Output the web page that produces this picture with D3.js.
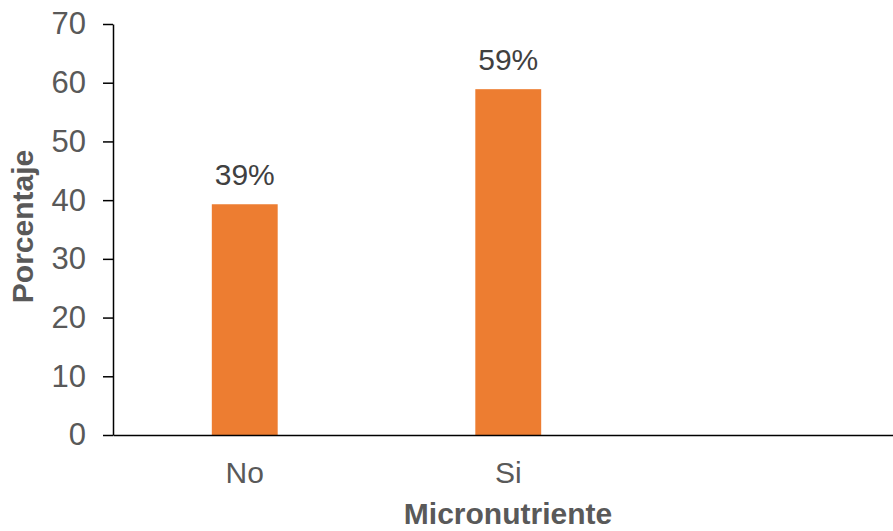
<!DOCTYPE html>
<html>
<head>
<meta charset="utf-8">
<script src="https://cdn.jsdelivr.net/npm/d3@7"></script>
<style>
  body { margin: 0; background: #fff; }
  svg { display: block; font-family: "Liberation Sans", Arial, sans-serif; }
</style>
</head>
<body>
<svg id="chart" width="893" height="531"></svg>
<script>
// categories on the x axis (third slot left empty as in the original)
var categories = ["No", "Si", ""];
var values = [39.3, 58.9];
var labels = ["39%", "59%"];
var yTicks = [0, 10, 20, 30, 40, 50, 60, 70];

var svg = d3.select("#chart");

var x = d3.scaleBand()
  .domain(categories)
  .range([113, 903.5])
  .paddingInner(0.75)
  .paddingOuter(0.375);

var y = d3.scaleLinear()
  .domain([0, 70])
  .range([435, 24]);

var data = values.map(function(v, i) {
  return {cat: categories[i], value: v, label: labels[i]};
});

// y axis
var gy = svg.append("g")
  .attr("transform", "translate(113,0)")
  .call(d3.axisLeft(y).tickValues(yTicks).tickSize(10).tickPadding(17).tickSizeOuter(0));
gy.select(".domain").attr("stroke", "#000").attr("stroke-width", 1.5);
gy.selectAll(".tick line").attr("stroke", "#000").attr("stroke-width", 1.5);
gy.selectAll(".tick text")
  .attr("fill", "#595959")
  .style("font-size", "31px");

// bars
svg.append("g")
  .selectAll("rect")
  .data(data)
  .enter().append("rect")
  .attr("fill", "#ED7D31")
  .attr("x", d => x(d.cat))
  .attr("width", x.bandwidth())
  .attr("y", d => y(d.value))
  .attr("height", d => y(0) - y(d.value));

// data labels
svg.append("g")
  .selectAll("text")
  .data(data)
  .enter().append("text")
  .attr("x", d => x(d.cat) + x.bandwidth() / 2)
  .attr("y", d => y(d.value) - 19)
  .attr("text-anchor", "middle")
  .attr("fill", "#404040")
  .style("font-size", "30px")
  .text(d => d.label);

// x axis
var gx = svg.append("g")
  .attr("transform", "translate(0,435)")
  .call(d3.axisBottom(x).tickSize(0).tickPadding(27).tickSizeOuter(0));
gx.select(".domain").attr("stroke", "#000").attr("stroke-width", 1.5);
gx.selectAll(".tick text")
  .attr("fill", "#595959")
  .style("font-size", "30px");

// axis titles
svg.append("text")
  .attr("x", 508)
  .attr("y", 524)
  .attr("text-anchor", "middle")
  .attr("fill", "#595959")
  .style("font-size", "30px")
  .style("font-weight", "bold")
  .text("Micronutriente");

svg.append("text")
  .attr("transform", "translate(33,226.5) rotate(-90)")
  .attr("text-anchor", "middle")
  .attr("fill", "#595959")
  .style("font-size", "30px")
  .style("font-weight", "bold")
  .text("Porcentaje");
</script>
</body>
</html>
